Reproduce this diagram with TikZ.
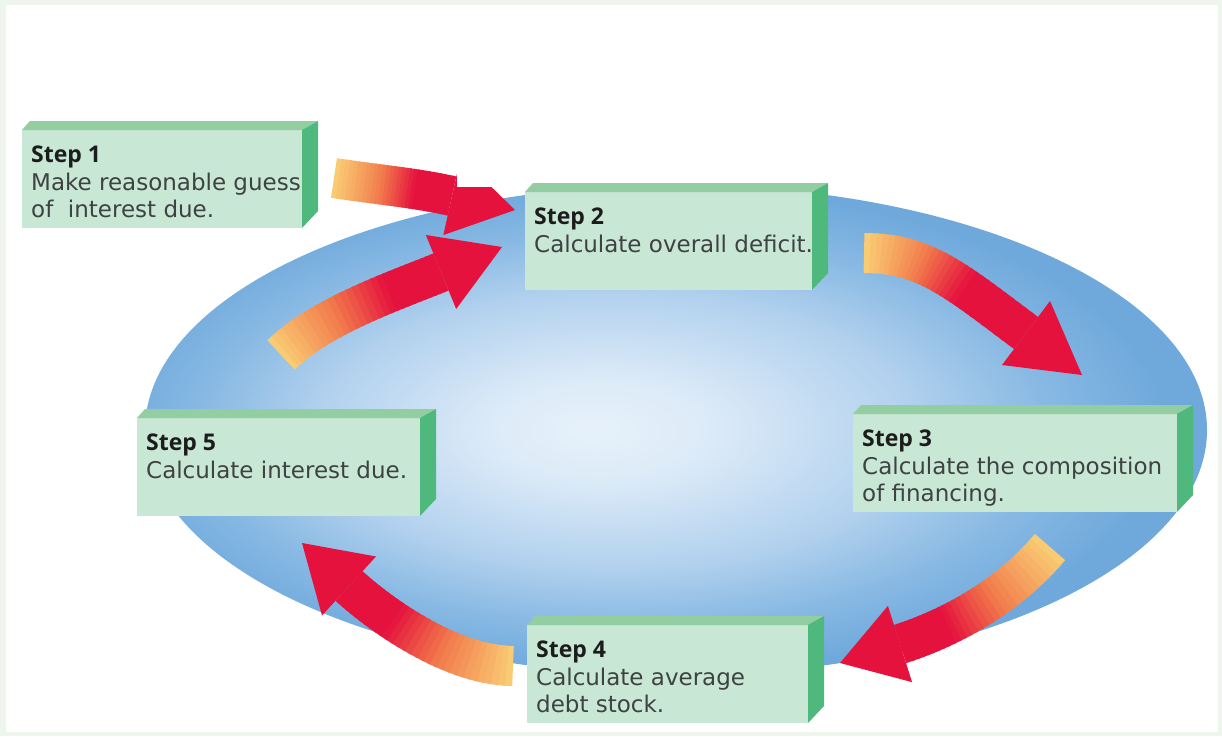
\documentclass[tikz,border=0pt]{standalone}
\usepackage{fontspec}
\setmainfont{DejaVu Sans}
\newfontfamily\titlefont{Open Sans}
\usetikzlibrary{positioning, calc}
\definecolor{paper}{HTML}{EEF5EC}
\definecolor{front}{HTML}{C8E7D4}
\definecolor{lidgreen}{HTML}{92CEA2}
\definecolor{flankgreen}{HTML}{4FB87C}
\definecolor{ink}{HTML}{1C1C1C}
\definecolor{inkgrey}{HTML}{3E4242}
\definecolor{ellmid}{HTML}{E6F1FA}
\definecolor{ellsoft}{HTML}{DDEBF8}
\definecolor{ellinner}{HTML}{B2D1EE}
\definecolor{ellouter}{HTML}{88B9E3}
\definecolor{ellrim}{HTML}{6FA9DC}
\definecolor{arrowyel}{HTML}{F9CB73}
\definecolor{arroworg}{HTML}{F27C4C}
\definecolor{arrowred}{HTML}{E5123E}
\pgfdeclareradialshading{ellglow}{\pgfpoint{-4bp}{0bp}}{color(0bp)=(ellmid); color(5bp)=(ellsoft); color(14bp)=(ellinner); color(20bp)=(ellouter); color(25bp)=(ellrim); color(50bp)=(ellrim)}
\newcommand{\steplabel}[1]{{\titlefont\bfseries\color{ink}Step #1}}
% tail, first control, pull of last control, head base, tip
\newcommand{\fatarrow}[5]{%
  \foreach \i in {0,...,29} {
    \pgfmathsetmacro{\ta}{\i/30}
    \pgfmathsetmacro{\tb}{min(1,(\i+1.5)/30)}
    \pgfmathsetmacro{\pa}{min(100,\ta/0.35*100)}
    \pgfmathsetmacro{\pb}{max(0,min(100,(\ta-0.35)/0.3*100))}
    \path (#1) .. controls (#2) and ($(#4)!-#3!(#5)$) .. (#4)
      coordinate[pos=\ta] (sa) coordinate[pos=\tb] (sb);
    \draw[shaft, draw=arrowred!\pb!arroworg!\pa!arrowyel] (sa) -- (sb);
  }
  \fill[arrowred] ($(#4)!40pt!90:(#5)$) -- (#5) -- ($(#4)!40pt!-90:(#5)$) -- cycle;
}
\tikzset{
  face/.style={fill=front, anchor=north west, inner sep=0pt, outer sep=0pt, minimum height=98pt},
  toplid/.style={fill=lidgreen},
  sideflank/.style={fill=flankgreen},
  txt/.style={inner sep=0pt, align=left, text=inkgrey, font=\fontsize{23}{27.5}\selectfont},
  shaft/.style={line width=40pt, line cap=butt},
}

\begin{document}
\begin{tikzpicture}[x=1pt, y=-1pt]
\useasboundingbox (0,0) rectangle (1222,736);
\fill[paper] (0,0) rectangle (1222,736);
\fill[white] (6,5) rectangle (1218,732);

% the cycle
\shade[shading=ellglow] (676,430) ellipse [x radius=531, y radius=245];

% arrows
\coordinate (a1tail) at (334,178);
\coordinate (a1ctl) at (380,185);
\coordinate (a1base) at (452,196);
\coordinate (a1tip) at (515,210);
\coordinate (a2tail) at (281,355);
\coordinate (a2ctl) at (320,316);
\coordinate (a2base) at (441,272);
\coordinate (a2tip) at (502,247);
\coordinate (a3tail) at (864,253);
\coordinate (a3ctl) at (924,253);
\coordinate (a3base) at (1026,333);
\coordinate (a3tip) at (1082,375);
\coordinate (a4tail) at (1050,547);
\coordinate (a4ctl) at (1005,601);
\coordinate (a4base) at (900,644);
\coordinate (a4tip) at (840,663);
\coordinate (a5tail) at (513,666);
\coordinate (a5ctl) at (453,666);
\coordinate (a5base) at (349,586);
\coordinate (a5tip) at (302,543);
\fatarrow{a1tail}{a1ctl}{0.6}{a1base}{a1tip}
\fatarrow{a2tail}{a2ctl}{0.7}{a2base}{a2tip}
\fatarrow{a3tail}{a3ctl}{1.3}{a3base}{a3tip}
\fatarrow{a4tail}{a4ctl}{0.7}{a4base}{a4tip}
\fatarrow{a5tail}{a5ctl}{0.7}{a5base}{a5tip}
\fill[white] (457,150) rectangle (531,187);

% boxes
\node[face, minimum width=280pt] (s1) at (22,130) {};
\node[face, minimum width=287pt] (s2) at (525,192) {};
\node[face, minimum width=324pt] (s3) at (853,414) {};
\node[face, minimum width=281pt] (s4) at (527,625) {};
\node[face, minimum width=283pt] (s5) at (137,418) {};
\foreach \s in {s1,s2,s3,s4,s5} {
  \fill[toplid] (\s.north west) -- ++(8pt,9pt) -- ([shift={(16pt,9pt)}]\s.north east) -- (\s.north east) -- cycle;
  \fill[sideflank] (\s.north east) -- ([shift={(16pt,9pt)}]\s.north east) -- ([shift={(16pt,17pt)}]\s.south east) -- (\s.south east) -- cycle;
}

\node[txt, below right=16pt and 9pt of s1.north west] (t1) {\steplabel{1}\\Make reasonable guess\\of\ \ interest due.};
\node[txt, below right=16pt and 9pt of s2.north west] (t2) {\steplabel{2}\\Calculate overall deficit.};
\node[txt, below right=16pt and 9pt of s3.north west] (t3) {\steplabel{3}\\Calculate the composition\\of financing.};
\node[txt, below right=16pt and 9pt of s4.north west] (t4) {\steplabel{4}\\Calculate average\\debt stock.};
\node[txt, below right=16pt and 9pt of s5.north west] (t5) {\steplabel{5}\\Calculate interest due.};
\end{tikzpicture}
\end{document}
